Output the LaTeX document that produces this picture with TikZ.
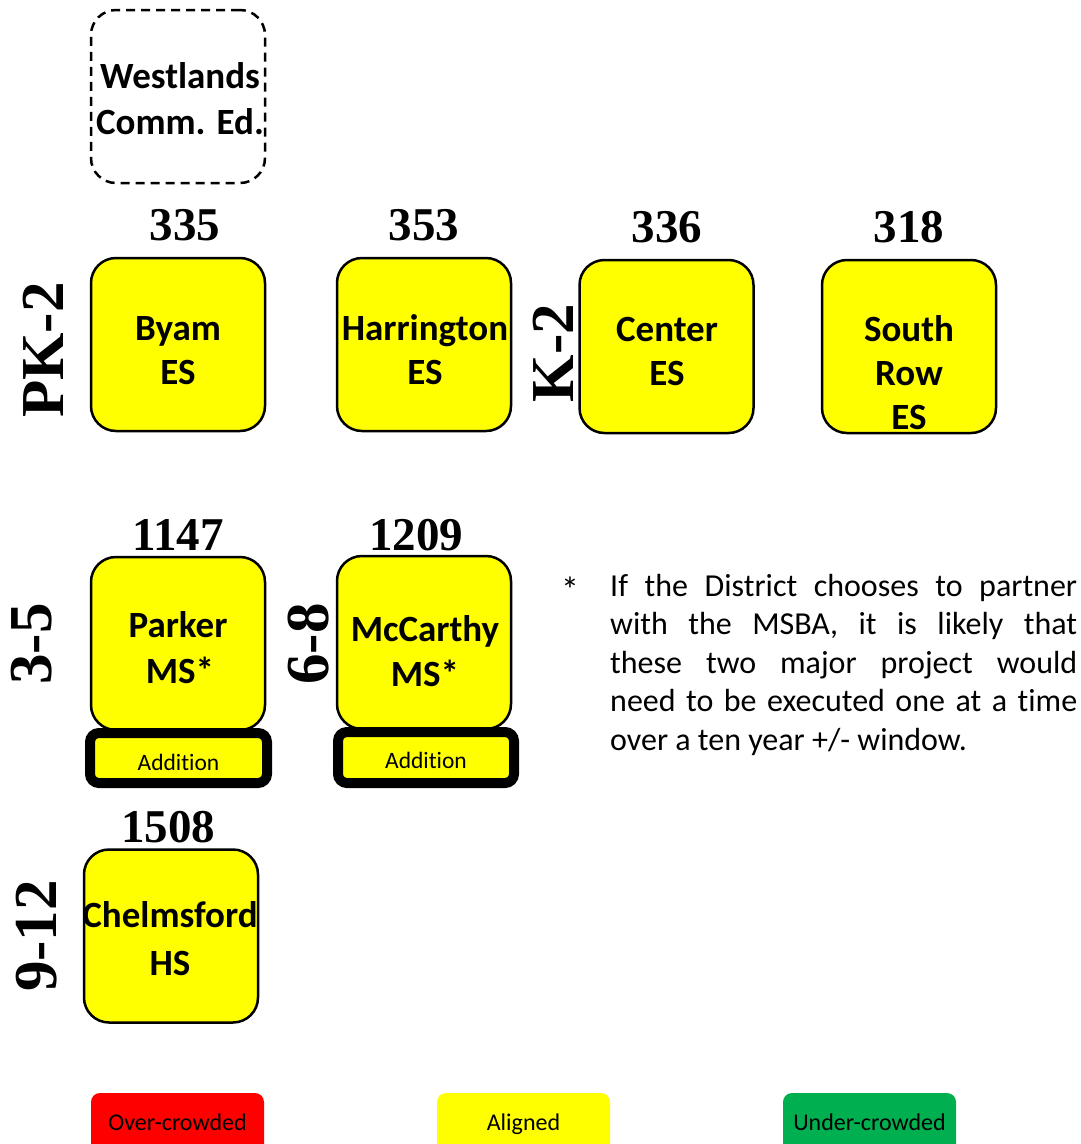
\documentclass[tikz,border=0pt]{standalone}
\usepackage{fontspec}
\newfontfamily\calfont[Ligatures={NoCommon,NoContextual}]{Carlito}
\newfontfamily\serfont{Liberation Serif}
\definecolor{ylw}{HTML}{FFFF00}
\definecolor{redc}{HTML}{FF0000}
\definecolor{grnc}{HTML}{00B050}
\begin{document}
\begin{tikzpicture}[x=1pt,y=-1pt,
  school/.style={draw=black, line width=2.5pt, fill=ylw, rounded corners=25pt,
    minimum width=174pt, minimum height=173pt, inner sep=0pt},
  ghost/.style={draw=black, line width=2.5pt, dash pattern=on 9pt off 6pt, rounded corners=25pt,
    minimum width=174pt, minimum height=173pt, inner sep=0pt},
  sname/.style={font=\calfont\bfseries\fontsize{37}{44}\selectfont, anchor=base, inner sep=0pt},
  enrol/.style={font=\serfont\bfseries\fontsize{47}{50}\selectfont, anchor=base, inner sep=0pt},
  grade/.style={font=\serfont\bfseries\fontsize{61}{61}\selectfont, rotate=90, anchor=base, inner sep=0pt},
  addbox/.style={draw=black, line width=10pt, fill=ylw, rounded corners=9pt, inner sep=0pt},
  addtext/.style={font=\calfont\fontsize{23.5}{28}\selectfont, anchor=base, inner sep=0pt},
  legbox/.style={rounded corners=9pt, minimum width=173pt, minimum height=80pt, inner sep=0pt},
  legtext/.style={font=\calfont\fontsize{24}{28}\selectfont, anchor=base, inner sep=0pt},
  note/.style={font=\calfont\fontsize{32}{38.5}\selectfont, inner sep=0pt, anchor=north west}
]
\useasboundingbox (0,0) rectangle (1081,1144);
\clip (0,0) rectangle (1081,1144);

% Westlands (dashed)
\node[ghost] (west) at (178,96.5) {};
\node[sname] (westA) at (180,88) {Westlands};
\node[sname] (westB) at (180,134) {Comm. Ed.};

% Elementary row
\node[school] (byam) at (178,344.5) {};
\node[school] (harr) at (424,344.5) {};
\node[school] (cent) at (666.5,346.5) {};
\node[school] (srow) at (909,346.5) {};

\node[enrol] (nbyam) at (185,240) {335};
\node[enrol] (nharr) at (424,240) {353};
\node[enrol] (ncent) at (667,242) {336};
\node[enrol] (nsrow) at (909,242) {318};

\node[sname] (byamA) at (178,340) {Byam};
\node[sname] (byamB) at (178,384) {ES};
\node[sname] (harrA) at (425,340) {Harrington};
\node[sname] (harrB) at (425,384) {ES};
\node[sname] (centA) at (667,341) {Center};
\node[sname] (centB) at (667,385) {ES};
\node[sname] (srowA) at (909,341) {South};
\node[sname] (srowB) at (909,385) {Row};
\node[sname] (srowC) at (909,429) {ES};

\node[grade] (gpk) at (63,350) {PK-2};
\node[grade] (gk) at (573,353) {K-2};

% Middle row
\node[school] (park) at (178,643.5) {};
\node[school] (mcc) at (424,642.5) {};
\node[addbox, minimum width=177pt, minimum height=50pt] (parkadd) at (178.5,758) {};
\node[addbox, minimum width=176pt, minimum height=51pt] (mccadd) at (426,757.5) {};
\node[addtext] (parkaddt) at (178.5,770) {Addition};
\node[addtext] (mccaddt) at (426,768) {Addition};

\node[enrol] (npark) at (178,550) {1147};
\node[enrol] (nmcc) at (416,550) {1209};

\node[sname] (parkA) at (178,637) {Parker};
\node[sname] (parkB) at (180,683) {MS*};
\node[sname] (mccA) at (425,641) {McCarthy};
\node[sname] (mccB) at (425,686) {MS*};

\node[grade] (g35) at (51,644) {3-5};
\node[grade] (g68) at (328,644) {6-8};

% High school
\node[school] (chel) at (171,936) {};
\node[enrol] (nchel) at (168,842) {1508};
\node[sname] (chelA) at (170,927) {Chelmsford};
\node[sname] (chelB) at (170,975) {HS};
\node[grade] (g912) at (56,936) {9-12};

% Footnote
\node[font=\calfont\fontsize{36}{40}\selectfont, anchor=base, inner sep=0pt] (star) at (570,602) {*};
\node[note, text width=467pt, align=justify] (foot) at (610,574)
  {If the District chooses to partner\linebreak with the MSBA, it is likely that\linebreak these two major project would\linebreak need to be executed one at a time\linebreak over a ten year +/- window.};

% Legend
\node[legbox, fill=redc] (lred) at (177.5,1133) {};
\node[legbox, fill=ylw] (lylw) at (523.5,1133) {};
\node[legbox, fill=grnc] (lgrn) at (869.5,1133) {};
\node[legtext] (tred) at (177.5,1130) {Over-crowded};
\node[legtext] (tylw) at (523.5,1130) {Aligned};
\node[legtext] (tgrn) at (869.5,1130) {Under-crowded};
\end{tikzpicture}
\end{document}
